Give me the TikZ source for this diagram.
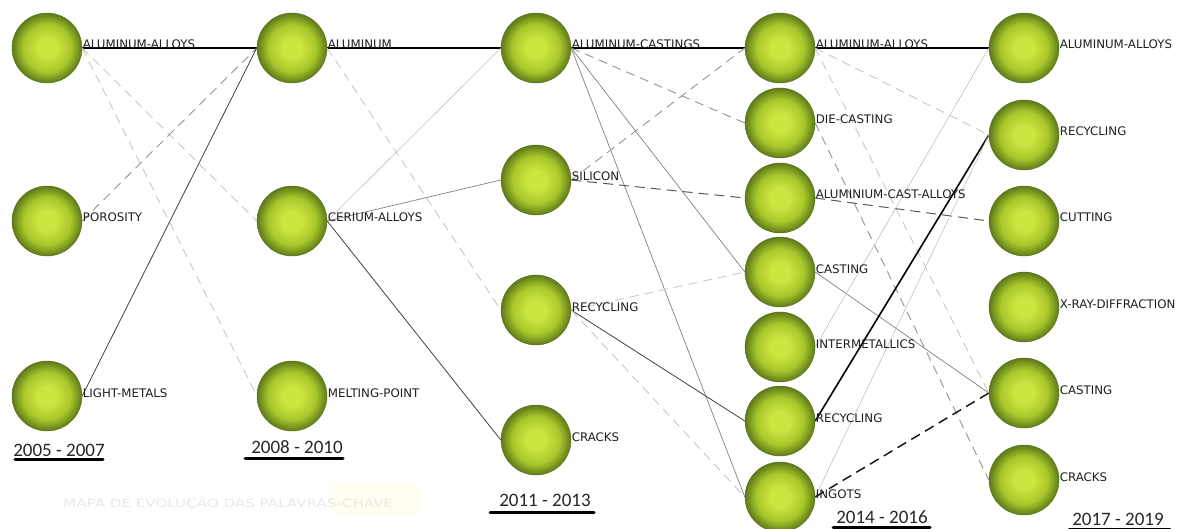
\documentclass[tikz,border=0pt]{standalone}
\usepackage{fontspec}
\usepackage{graphicx}
\setmainfont{DejaVu Sans}
\newfontfamily\yearfont{Carlito}
\usetikzlibrary{backgrounds}

% keyword sphere colours
\definecolor{orbin}{RGB}{204,229,64}
\definecolor{orbmid}{RGB}{168,199,42}
\definecolor{orbout}{RGB}{94,122,26}
\definecolor{lbltext}{RGB}{30,30,30}
% the path's bounding box maps to the central 50bp square, so the rim is at 25bp
\pgfdeclareradialshading{orbshade}{\pgfpoint{0bp}{0bp}}{%
  color(0bp)=(orbin); color(7bp)=(orbin); color(17bp)=(orbmid);
  color(25bp)=(orbout); color(50bp)=(orbout)}

% one keyword: sphere plus its label on the right
\newcommand\kwnode[4]{%
  \node[kw] (#1) at (#2,#3) {};
  \node[kwlabel] (#1-lbl) at ([xshift=0.5pt,yshift=-1pt]#1.east) {#4};
}

\begin{document}
\begin{tikzpicture}[x=1pt,y=-1pt,
  kw/.style={circle, minimum size=70pt, inner sep=0pt, shading=orbshade,
    draw=orbout!90!black, line width=0.4pt},
  kwlabel/.style={anchor=base west, inner sep=0pt, text=lbltext,
    font=\fontsize{11.8}{13}\selectfont},
  yearlbl/.style={anchor=base, inner sep=0pt, text=black!85,
    font=\yearfont\fontsize{19}{21}\selectfont},
  yearbar/.style={line width=3pt, line cap=round, black},
  thickline/.style={black, line width=1.6pt},
  darkline/.style={black!75, line width=0.8pt},
  grayline/.style={black!50, line width=0.7pt},
  lightline/.style={black!25, line width=0.6pt},
  dashlight/.style={black!22, line width=0.9pt, dash pattern=on 9pt off 6pt},
  dashmid/.style={black!42, line width=0.9pt, dash pattern=on 9pt off 6pt},
  dashdark/.style={black!65, line width=1pt, dash pattern=on 10pt off 6pt},
  dashheavy/.style={black!90, line width=1.5pt, dash pattern=on 10pt off 6pt}]
\useasboundingbox (0,0) rectangle (1182,529);

% faint title banner
\fill[yellow!6, rounded corners=6pt] (330,483) rectangle (420,515);
\node[inner sep=0pt, anchor=base west, text=black!9] (title) at (63,507)
  {\resizebox{330pt}{10.5pt}{MAPA DE EVOLUÇÃO DAS PALAVRAS-CHAVE}};

% 2005 - 2007
\kwnode{aa1}{47}{48}{ALUMINUM-ALLOYS}
\kwnode{por}{47}{221}{POROSITY}
\kwnode{lm}{47}{396}{LIGHT-METALS}
% 2008 - 2010
\kwnode{alu}{292}{48}{ALUMINUM}
\kwnode{cer}{292}{221}{CERIUM-ALLOYS}
\kwnode{mp}{292}{396}{MELTING-POINT}
% 2011 - 2013
\kwnode{aac}{536}{48}{ALUMINUM-CASTINGS}
\kwnode{sil}{536}{180}{SILICON}
\kwnode{recc}{536}{310}{RECYCLING}
\kwnode{crac}{536}{440}{CRACKS}
% 2014 - 2016
\kwnode{aad}{780}{48}{ALUMINUM-ALLOYS}
\kwnode{die}{780}{123}{DIE-CASTING}
\kwnode{alc}{780}{198}{ALUMINIUM-CAST-ALLOYS}
\kwnode{casd}{780}{272}{CASTING}
\kwnode{intm}{780}{347}{INTERMETALLICS}
\kwnode{recd}{780}{421}{RECYCLING}
\kwnode{ing}{780}{497}{INGOTS}
% 2017 - 2019
\kwnode{aae}{1024}{48}{ALUMINUM-ALLOYS}
\kwnode{rece}{1024}{135}{RECYCLING}
\kwnode{cut}{1024}{221}{CUTTING}
\kwnode{xrd}{1024}{307}{X-RAY-DIFFRACTION}
\kwnode{case}{1024}{393}{CASTING}
\kwnode{crae}{1024}{480}{CRACKS}

% period captions
\node[yearlbl] (y1) at (59,456) {2005 - 2007};
\node[yearlbl] (y2) at (297,453) {2008 - 2010};
\node[yearlbl] (y3) at (545,506) {2011 - 2013};
\node[yearlbl] (y4) at (882,523) {2014 - 2016};
\node[yearlbl] (y5) at (1118,525) {2017 - 2019};
\draw[yearbar] (15,459.5) -- (103,459.5);
\draw[yearbar] (245,458) -- (343,458);
\draw[yearbar] (490,512) -- (594,512);
\draw[yearbar] (833,527) -- (930,527);
\draw[yearbar] (1069,529) -- (1170,529);

\begin{pgfonlayer}{background}
  % 2005 - 2007 -> 2008 - 2010
  \draw[thickline] (aa1.east) -- (alu.west);
  \draw[dashlight] (aa1.east) -- (cer.west);
  \draw[dashlight] (aa1.east) -- (mp.west);
  \draw[dashmid]   (por.east) -- (alu.west);
  \draw[darkline]  (lm.east)  -- (alu.west);
  % 2008 - 2010 -> 2011 - 2013
  \draw[thickline] (alu.east) -- (aac.west);
  \draw[dashlight] (alu.east) -- (recc.west);
  \draw[lightline] (cer.east) -- (aac.west);
  \draw[grayline]  (cer.east) -- (sil.west);
  \draw[darkline]  (cer.east) -- (crac.west);
  % 2011 - 2013 -> 2014 - 2016
  \draw[thickline] (aac.east) -- (aad.west);
  \draw[dashmid]   (aac.east) -- (die.west);
  \draw[grayline]  (aac.east) -- (casd.west);
  \draw[grayline]  (aac.east) -- (ing.west);
  \draw[dashmid]   (sil.east) -- (aad.west);
  \draw[dashdark]  (sil.east) -- (alc.west);
  \draw[dashlight] (recc.east) -- (casd.west);
  \draw[darkline]  (recc.east) -- (recd.west);
  \draw[dashlight] (recc.east) -- (ing.west);
  % 2014 - 2016 -> 2017 - 2019
  \draw[thickline] (aad.east) -- (aae.west);
  \draw[dashlight] (aad.east) -- (rece.west);
  \draw[dashlight] (aad.east) -- (case.west);
  \draw[dashmid]   (die.east) -- (crae.west);
  \draw[dashdark]  (alc.east) -- (cut.west);
  \draw[grayline]  (casd.east) -- (case.west);
  \draw[lightline] (intm.east) -- (aae.west);
  \draw[thickline] (recd.east) -- (rece.west);
  \draw[lightline] (ing.east) -- (rece.west);
  \draw[dashheavy] (ing.east) -- (case.west);
\end{pgfonlayer}
\end{tikzpicture}
\end{document}
